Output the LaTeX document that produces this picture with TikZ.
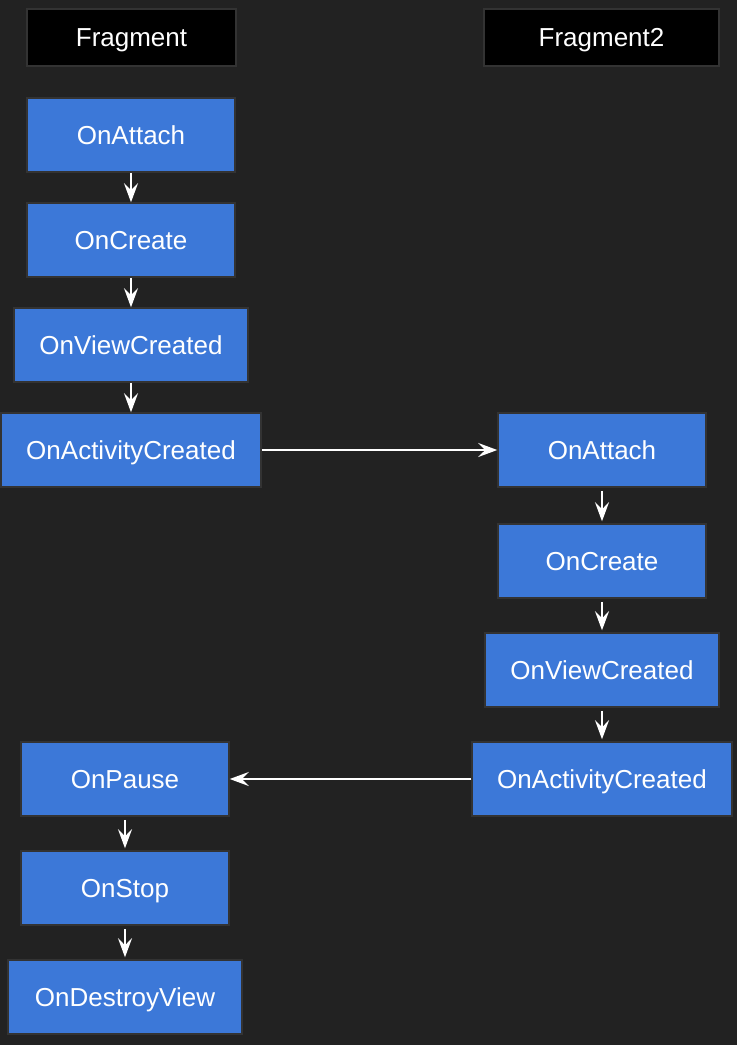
\documentclass[tikz,border=0pt]{standalone}
\usepackage{fontspec}
\setmainfont{Liberation Sans}
\usetikzlibrary{arrows.meta}
\definecolor{bg}{HTML}{222222}
\definecolor{boxblue}{HTML}{3C78D8}
\definecolor{edge}{HTML}{333333}
\tikzset{
  stage/.style={draw=edge,line width=1.5pt,fill=boxblue,text=white,minimum height=74pt,inner sep=0pt,text height=18.5pt,text depth=0pt,font=\fontsize{26}{30}\selectfont},
  head/.style={draw=edge,line width=1.5pt,fill=black,text=white,minimum height=57pt,inner sep=0pt,text height=18.5pt,text depth=0pt,font=\fontsize{26}{30}\selectfont},
  flow/.style={draw=white,line width=1.5pt,-{Stealth[length=19pt,width=14pt,inset=7pt]}}
}
\begin{document}
\begin{tikzpicture}[x=1pt,y=-1pt]
\fill[bg] (0,0) rectangle (737,1045);
\useasboundingbox (0,0) rectangle (737,1045);
% titles
\node[head,minimum width=209pt] (frag) at (131.5,37.5) {Fragment};
\node[head,minimum width=235pt] (fragb) at (601.5,37.5) {Fragment2};
% Fragment
\node[stage,minimum width=208pt] (attach) at (131,135) {OnAttach};
\node[stage,minimum width=208pt] (create) at (131,240) {OnCreate};
\node[stage,minimum width=234pt] (view) at (131,345) {OnViewCreated};
\node[stage,minimum width=260pt] (activity) at (131,450) {OnActivityCreated};
% Fragment2
\node[stage,minimum width=208pt] (attachb) at (602,450) {OnAttach};
\node[stage,minimum width=208pt] (createb) at (602,561) {OnCreate};
\node[stage,minimum width=234pt] (viewb) at (602,670) {OnViewCreated};
\node[stage,minimum width=260pt] (activityb) at (602,779) {OnActivityCreated};
% Fragment again
\node[stage,minimum width=208pt] (pause) at (125,779) {OnPause};
\node[stage,minimum width=208pt] (stop) at (125,888) {OnStop};
\node[stage,minimum width=234pt] (destroy) at (125,997) {OnDestroyView};
% arrows
\draw[flow] (attach) -- (create);
\draw[flow] (create) -- (view);
\draw[flow] (view) -- (activity);
\draw[flow] (activity) -- (attachb);
\draw[flow,shorten <=3pt,shorten >=2pt] (attachb) -- (createb);
\draw[flow,shorten <=3pt,shorten >=2pt] (createb) -- (viewb);
\draw[flow,shorten <=3pt,shorten >=2pt] (viewb) -- (activityb);
\draw[flow] (activityb) -- (pause);
\draw[flow,shorten <=3pt,shorten >=2pt] (pause) -- (stop);
\draw[flow,shorten <=3pt,shorten >=2pt] (stop) -- (destroy);
\end{tikzpicture}
\end{document}
